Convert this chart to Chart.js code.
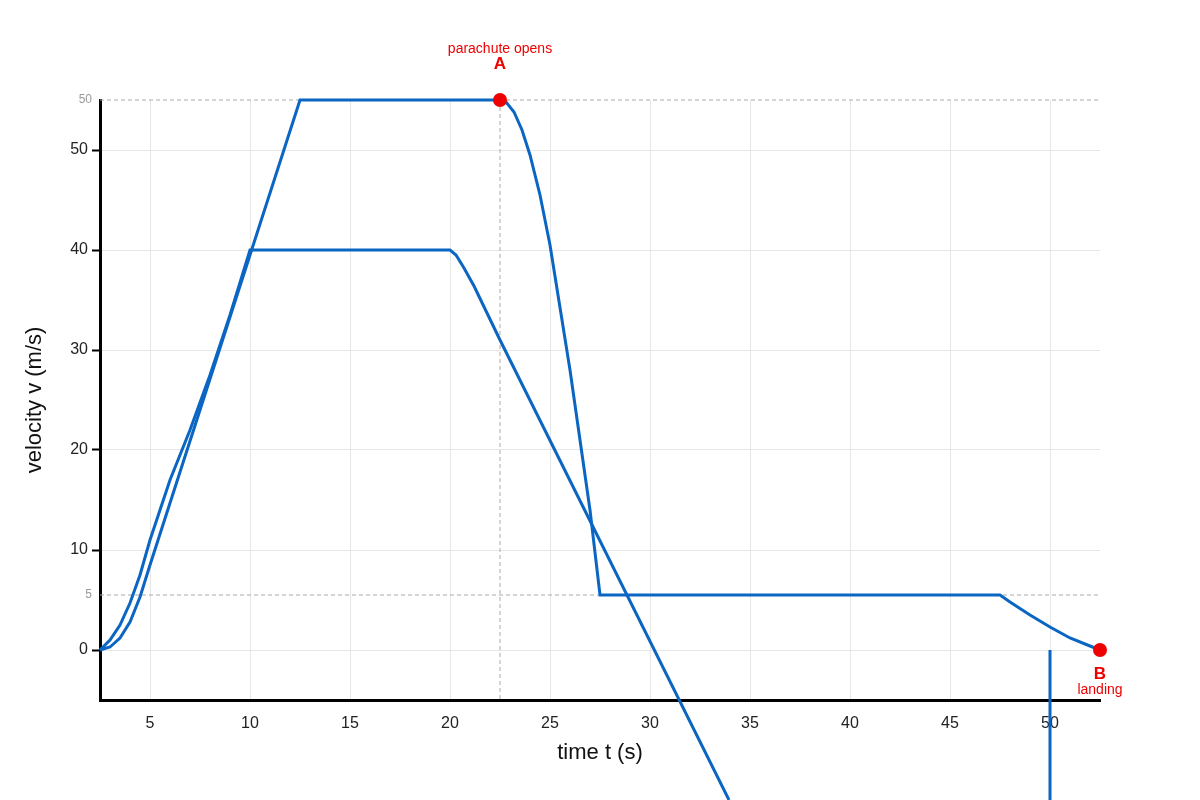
<!DOCTYPE html>
<html><head><meta charset="utf-8">
<script src="https://cdn.jsdelivr.net/npm/chart.js@4/dist/chart.umd.min.js"></script>
<style>html,body{margin:0;padding:0;background:#fff}#w{width:1200px;height:800px}</style>
</head><body><div id="w"><canvas id="c"></canvas></div>
<script>
const xTicks=[5,10,15,20,25,30,35,40,45,50];
const yTicks=[0,10,20,30,40,50];
const curveA=[[2.5,0],[3,0.3],[3.5,1.2],[4,2.8],[4.5,5.3],[5,8.5],[12.5,55],[22.5,55],[22.8,54.8],[23.2,53.8],[23.6,52],[24,49.5],[24.5,45.5],[25,40.5],[26,28],[27,14],[27.5,5.5],[47.5,5.5],[48,4.8],[49,3.5],[50,2.3],[51,1.2],[52,0.4],[52.5,0]];
const curveB=[[2.5,0],[3,1],[3.5,2.5],[4,4.7],[4.5,7.5],[5,11],[5.5,14],[6,17],[7,22],[8,27.5],[9,33.5],[10,40],[20,40],[20.3,39.5],[20.7,38.2],[21.2,36.4],[22.5,31],[33.95,-15]];
const vertLine=[[50,0],[50,-15]];
const markA=[22.5,55], markB=[52.5,0];
const refY=[55,5.5], refYLabels=['50','5'], refX=22.5;
const toPts=a=>a.map(p=>({x:p[0],y:p[1]}));
const blue='#0a66c2';
const ds=(d)=>({data:toPts(d),borderColor:blue,borderWidth:3,pointRadius:0,fill:false,tension:0,clip:false});
const overlay={id:'ov',
 beforeDatasetsDraw(ch){const c=ch.ctx,x=ch.scales.x,y=ch.scales.y;c.save();c.strokeStyle='#aaa';c.lineWidth=1;c.setLineDash([4,3]);
  refY.forEach(v=>{c.beginPath();c.moveTo(x.left,y.getPixelForValue(v));c.lineTo(x.right,y.getPixelForValue(v));c.stroke();});
  c.beginPath();c.moveTo(x.getPixelForValue(refX),y.getPixelForValue(55));c.lineTo(x.getPixelForValue(refX),y.bottom);c.stroke();
  c.setLineDash([]);c.fillStyle='#999';c.font='12px Liberation Sans, Arial';c.textAlign='right';c.textBaseline='middle';
  refY.forEach((v,i)=>c.fillText(refYLabels[i],x.left-8,y.getPixelForValue(v)));c.restore();},
 afterDatasetsDraw(ch){const c=ch.ctx,x=ch.scales.x,y=ch.scales.y;c.save();c.fillStyle='#e00';
  [markA,markB].forEach(m=>{c.beginPath();c.arc(x.getPixelForValue(m[0]),y.getPixelForValue(m[1]),7,0,Math.PI*2);c.fill();});
  c.textAlign='center';c.textBaseline='middle';
  let ax=x.getPixelForValue(markA[0]),ay=y.getPixelForValue(markA[1]);
  c.font='bold 17px Liberation Sans, Arial';c.fillText('A',ax,ay-36);
  c.font='14px Liberation Sans, Arial';c.fillText('parachute opens',ax,ay-51);
  let bx=x.getPixelForValue(markB[0]),by=y.getPixelForValue(markB[1]);
  c.font='bold 17px Liberation Sans, Arial';c.fillText('B',bx,by+24);
  c.font='14px Liberation Sans, Arial';c.fillText('landing',bx,by+40);
  c.restore();}};
new Chart(document.getElementById('c'),{type:'line',
 data:{datasets:[ds(curveA),ds(curveB),{...ds(vertLine)}]},
 options:{responsive:true,maintainAspectRatio:false,animation:false,
  layout:{padding:{left:18,right:100,top:100,bottom:30}},
  plugins:{legend:{display:false},tooltip:{enabled:false}},
  scales:{
   x:{type:'linear',min:2.5,max:52.5,afterFit(s){s.height=70;},
    afterBuildTicks(s){s.ticks=xTicks.map(v=>({value:v}));},
    grid:{color:'#e6e6e6',drawTicks:false},border:{color:'#000',width:3},
    ticks:{color:'#222',font:{size:16,family:'Liberation Sans, Arial'},padding:14},
    title:{display:true,text:'time t (s)',color:'#111',font:{size:22,family:'Liberation Sans, Arial'},padding:{top:2}}},
   y:{min:-5,max:55,afterFit(s){s.width=82;},
    afterBuildTicks(s){s.ticks=yTicks.map(v=>({value:v}));},
    grid:{color:'#e6e6e6',tickColor:'#000',tickLength:8,tickWidth:2},border:{color:'#000',width:3},
    ticks:{color:'#222',font:{size:16,family:'Liberation Sans, Arial'},padding:4},
    title:{display:true,text:'velocity v (m/s)',color:'#111',font:{size:22,family:'Liberation Sans, Arial'},padding:{bottom:8}}}}},
 plugins:[overlay]});
</script></body></html>
